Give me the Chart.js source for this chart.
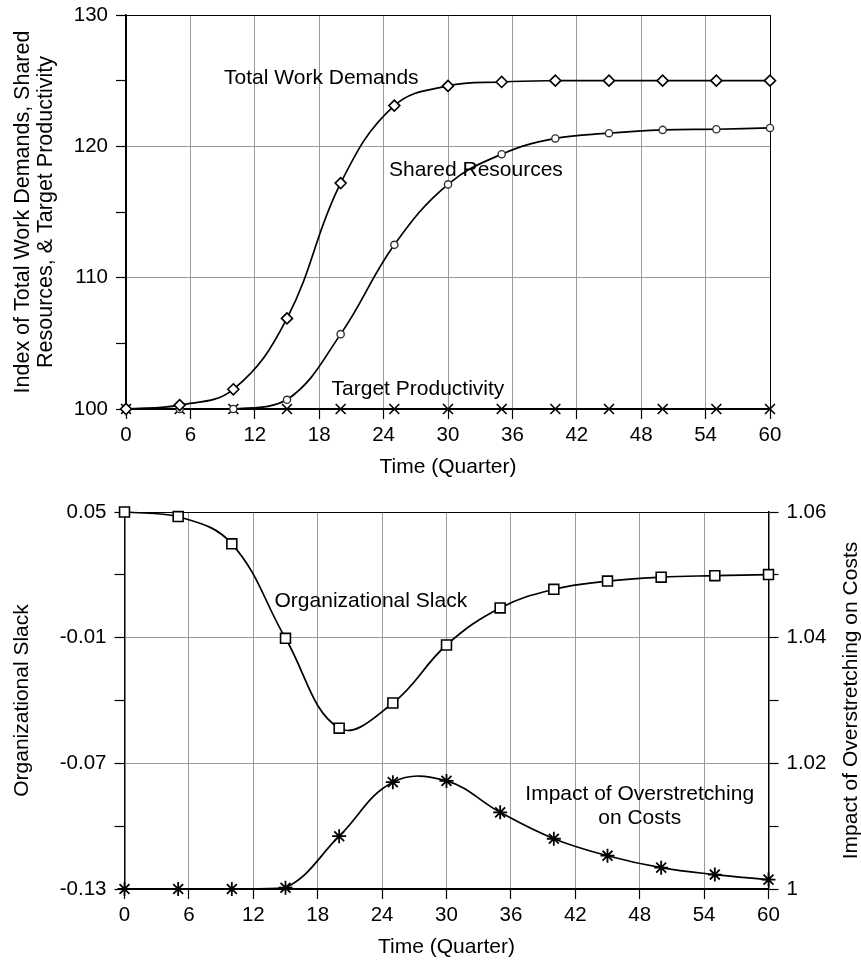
<!DOCTYPE html>
<html>
<head>
<meta charset="utf-8">
<script src="https://cdn.jsdelivr.net/npm/chart.js@4.4.1/dist/chart.umd.min.js"></script>
<style>
  html, body { margin: 0; padding: 0; background: #fff; }
  canvas { display: block; }
</style>
</head>
<body>
<canvas id="workChart" width="861" height="480"></canvas>
<canvas id="slackChart" width="861" height="480"></canvas>
<script>
// sample quarters (markers every 5 quarters)
var quarters = [0, 5, 10, 15, 20, 25, 30, 35, 40, 45, 50, 55, 60];

// upper panel series
var totalWorkDemands   = [100, 100.3, 101.5, 106.9, 117.2, 123.1, 124.6, 124.9, 125, 125, 125, 125, 125];
var sharedResources    = [100, 100, 100, 100.7, 105.7, 112.5, 117.1, 119.4, 120.6, 121.0, 121.25, 121.3, 121.4];
var targetProductivity = [100, 100, 100, 100, 100, 100, 100, 100, 100, 100, 100, 100, 100];

// lower panel series
var organizationalSlack = [0.05, 0.0478, 0.0348, -0.0103, -0.0532, -0.0412, -0.0135, 0.0042, 0.0131, 0.0170, 0.0189, 0.0196, 0.0201];
var overstretchImpact   = [1, 1, 1, 1.0002, 1.0084, 1.0170, 1.0172, 1.0122, 1.0080, 1.0053, 1.0034, 1.0023, 1.0015];

// axis ticks
var quarterTicks      = [0, 6, 12, 18, 24, 30, 36, 42, 48, 54, 60];
var quarterTickLabels = ['0', '6', '12', '18', '24', '30', '36', '42', '48', '54', '60'];
var indexTicks        = [100, 105, 110, 115, 120, 125, 130];
var indexTickLabels   = ['100', '', '110', '', '120', '', '130'];
var slackTicks        = [-0.13, -0.10, -0.07, -0.04, -0.01, 0.02, 0.05];
var slackTickLabels   = ['-0.13', '', '-0.07', '', '-0.01', '', '0.05'];
var impactTicks       = [1, 1.01, 1.02, 1.03, 1.04, 1.05, 1.06];
var impactTickLabels  = ['1', '', '1.02', '', '1.04', '', '1.06'];

var fontFamily = "'Liberation Sans', Arial, Helvetica, sans-serif";
Chart.defaults.font.family = fontFamily;
Chart.defaults.font.size = 20.5;
Chart.defaults.color = '#000';

var colors = {
    line: '#000',
    grid: '#9a9a9a',
    axis: '#000'
};

function points(values) {
    return quarters.map(function(q, i) { return { x: q, y: values[i] }; });
}

function series(label, values, yAxisID, style) {
    return Object.assign({
        label: label,
        data: points(values),
        yAxisID: yAxisID,
        borderColor: colors.line,
        borderWidth: 1.7,
        pointBorderColor: colors.line,
        pointBackgroundColor: '#fff',
        pointBorderWidth: 1.6,
        tension: 0.4,
        clip: false
    }, style);
}

// fixed ticks + labels, minor ticks get no grid line
function tickScale(values, labels, extra) {
    return Object.assign({
        type: 'linear',
        min: values[0],
        max: values[values.length - 1],
        afterBuildTicks: function(scale) {
            scale.ticks = values.map(function(v) { return { value: v }; });
        },
        ticks: {
            autoSkip: false,
            maxRotation: 0,
            padding: 8,
            callback: function(value, index) { return labels[index]; }
        },
        grid: {
            lineWidth: 1,
            tickLength: 10,
            tickWidth: 1.2,
            tickColor: colors.axis,
            color: function(ctx) {
                var i = ctx.index;
                if (i === 0 || i === labels.length - 1) return colors.axis;
                return labels[i] === '' ? 'rgba(0,0,0,0)' : colors.grid;
            }
        },
        border: { color: colors.axis, width: 1.5 }
    }, extra);
}

// pin the plot area: no extra room reserved for half tick labels
function fixedWidth(w) {
    return function(scale) { scale.width = w; scale.paddingTop = 0; scale.paddingBottom = 0; };
}
function fixedHeight(h) {
    return function(scale) { scale.height = h; scale.paddingLeft = 0; scale.paddingRight = 0; };
}

// text labels placed next to the curves, in data coordinates
var curveLabelsPlugin = {
    id: 'curveLabels',
    afterDatasetsDraw: function(chart, args, opts) {
        var ctx = chart.ctx;
        ctx.save();
        ctx.fillStyle = '#000';
        ctx.font = opts.font || ('21px ' + fontFamily);
        ctx.textAlign = 'center';
        ctx.textBaseline = 'middle';
        (opts.items || []).forEach(function(item) {
            var px = chart.scales.x.getPixelForValue(item.x);
            var py = chart.scales[item.axis || 'y'].getPixelForValue(item.y);
            var lines = [].concat(item.text);
            var lh = opts.lineHeight || 24;
            var top = py - (lines.length - 1) * lh / 2;
            lines.forEach(function(line, k) { ctx.fillText(line, px, top + k * lh); });
        });
        ctx.restore();
    }
};

// right-hand axis title reading bottom-to-top
var sideTitlePlugin = {
    id: 'sideTitle',
    afterDraw: function(chart, args, opts) {
        if (!opts.text) return;
        var area = chart.chartArea;
        var ctx = chart.ctx;
        ctx.save();
        ctx.fillStyle = '#000';
        ctx.font = '21px ' + fontFamily;
        ctx.textAlign = 'center';
        ctx.textBaseline = 'middle';
        ctx.translate(opts.x, (area.top + area.bottom) / 2);
        ctx.rotate(-Math.PI / 2);
        ctx.fillText(opts.text, 0, 0);
        ctx.restore();
    }
};

// upper panel: work demands, shared resources, target productivity
new Chart(document.getElementById('workChart'), {
    type: 'line',
    data: {
        datasets: [
            series('Total Work Demands', totalWorkDemands, 'y', { pointStyle: 'rectRot', pointRadius: 5.5 }),
            series('Shared Resources', sharedResources, 'y', { pointStyle: 'circle', pointRadius: 3.6, pointBorderWidth: 1.4, pointBorderColor: '#333' }),
            series('Target Productivity', targetProductivity, 'y', { pointStyle: 'crossRot', pointRadius: 7 })
        ]
    },
    options: {
        responsive: false,
        animation: false,
        layout: { padding: { top: 15, right: 91, bottom: 0, left: 0 } },
        plugins: {
            legend: { display: false },
            tooltip: { enabled: false },
            curveLabels: {
                items: [
                    { text: 'Total Work Demands', x: 18.2, y: 125.2 },
                    { text: 'Shared Resources', x: 32.6, y: 118.2 },
                    { text: 'Target Productivity', x: 27.2, y: 101.5 }
                ]
            }
        },
        scales: {
            x: tickScale(quarterTicks, quarterTickLabels, {
                position: 'bottom',
                afterFit: fixedHeight(71),
                ticks: {
                    autoSkip: false, maxRotation: 0, padding: 4.5,
                    callback: function(value, index) { return quarterTickLabels[index]; }
                },
                title: { display: true, text: 'Time (Quarter)', font: { size: 21 }, padding: { top: 0, bottom: 0 } }
            }),
            y: tickScale(indexTicks, indexTickLabels, {
                position: 'left',
                afterFit: fixedWidth(126),
                title: {
                    display: true,
                    text: ['Index of Total Work Demands, Shared', 'Resources, & Target Productivity'],
                    font: { size: 21.5, lineHeight: 1.08 },
                    padding: { top: 11.5, bottom: 0 }
                }
            })
        }
    },
    plugins: [curveLabelsPlugin]
});

// lower panel: organizational slack (left) and overstretching impact (right)
new Chart(document.getElementById('slackChart'), {
    type: 'line',
    data: {
        datasets: [
            series('Organizational Slack', organizationalSlack, 'y', { pointStyle: 'rect', pointRadius: 7 }),
            series('Impact of Overstretching on Costs', overstretchImpact, 'y2', { pointStyle: 'star', pointRadius: 7, pointBorderWidth: 1.8 })
        ]
    },
    options: {
        responsive: false,
        animation: false,
        layout: { padding: { top: 32, right: 0, bottom: 0, left: 0 } },
        plugins: {
            legend: { display: false },
            tooltip: { enabled: false },
            curveLabels: {
                items: [
                    { text: 'Organizational Slack', x: 22.95, y: 0.0072 },
                    { text: ['Impact of Overstretching', 'on Costs'], x: 48.0, y: 1.0131, axis: 'y2' }
                ]
            },
            sideTitle: { text: 'Impact of Overstretching on Costs', x: 851 }
        },
        scales: {
            x: tickScale(quarterTicks, quarterTickLabels, {
                position: 'bottom',
                afterFit: fixedHeight(71),
                ticks: {
                    autoSkip: false, maxRotation: 0, padding: 4.5,
                    callback: function(value, index) { return quarterTickLabels[index]; }
                },
                title: { display: true, text: 'Time (Quarter)', font: { size: 21 }, padding: { top: 0, bottom: 0 } }
            }),
            y: tickScale(slackTicks, slackTickLabels, {
                position: 'left',
                afterFit: fixedWidth(124.5),
                title: {
                    display: true,
                    text: 'Organizational Slack',
                    font: { size: 21, lineHeight: 1.1 },
                    padding: { top: 10.5, bottom: 0 }
                }
            }),
            y2: tickScale(impactTicks, impactTickLabels, {
                position: 'right',
                afterFit: fixedWidth(92.5),
                grid: {
                    drawOnChartArea: false,
                    tickLength: 10,
                    tickWidth: 1.2,
                    tickColor: colors.axis
                }
            })
        }
    },
    plugins: [curveLabelsPlugin, sideTitlePlugin]
});
</script>
</body>
</html>
